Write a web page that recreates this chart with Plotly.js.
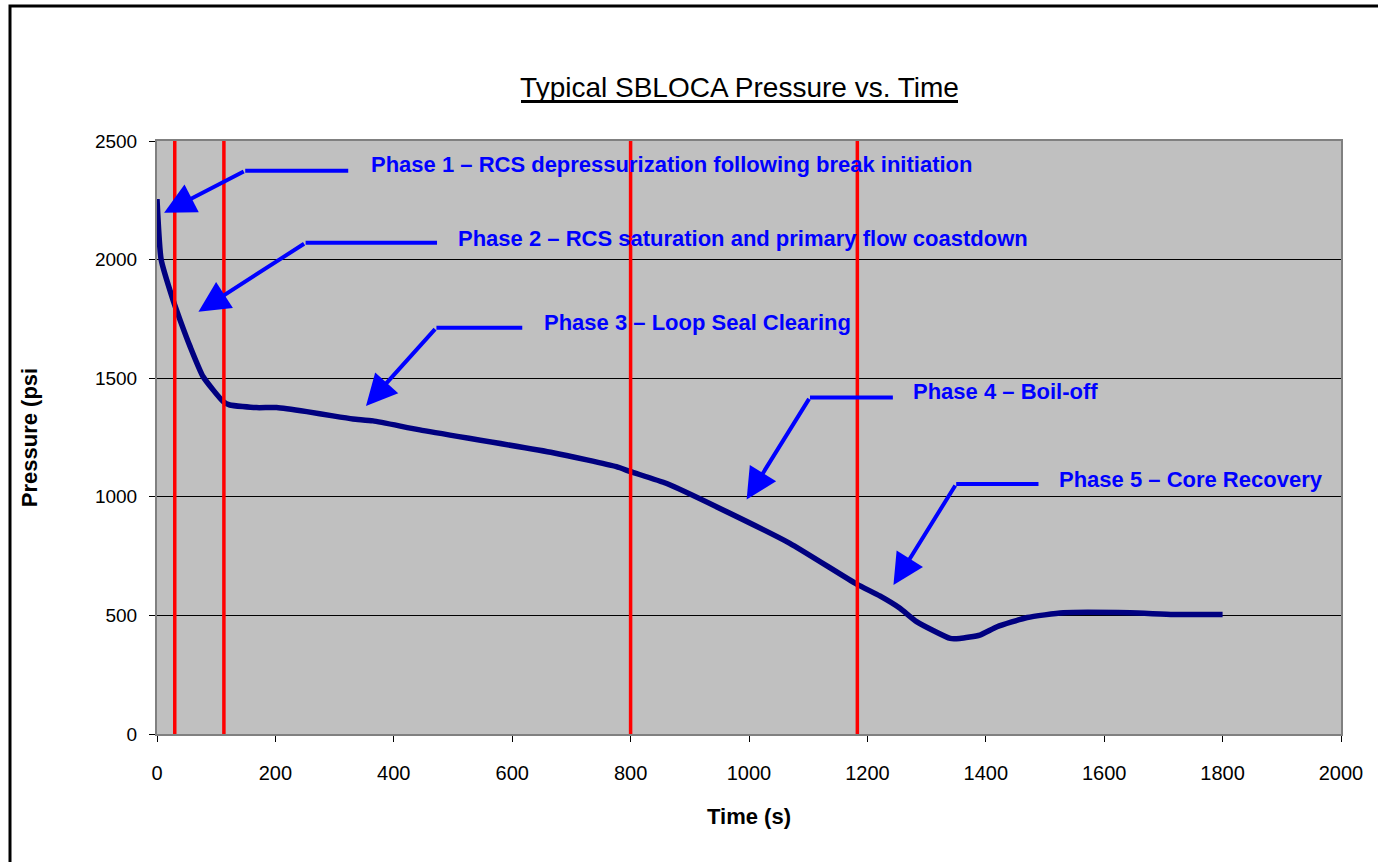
<!DOCTYPE html>
<html>
<head>
<meta charset="utf-8">
<script src="https://cdn.plot.ly/plotly-3.0.1.min.js"></script>
<style>
html,body{margin:0;padding:0;background:#fff;}
#chart{width:1378px;height:862px;}
</style>
</head>
<body>
<div id="chart"></div>
<script>
// Data
const timeS = [0,7,27,39,56,78,112,123,168,202,253,297,331,365,444,669,776,800,861,951,1069,1182,1221,1255,1283,1340,1356,1390,1419,1470,1531,1644,1717,1800];
const pressurePsi = [2255,2000,1830,1745,1633,1506,1401,1387,1376,1376,1359,1341,1328,1320,1282,1186,1127,1106,1056,951,804,632,582,530,474,403,403,417,452,491,511,511,504,504];

// Phase boundary times (red vertical lines)
const phaseBoundaries = [30, 113, 800, 1183];

// Phase labels and their callout arrows (tip, elbow, label-end)
const phaseLabels = [
  "Phase 1 \u2013 RCS depressurization following break initiation",
  "Phase 2 \u2013 RCS saturation and primary flow coastdown",
  "Phase 3 \u2013 Loop Seal Clearing",
  "Phase 4 \u2013 Boil-off",
  "Phase 5 \u2013 Core Recovery"
];
const arrowTipX   = [12, 70, 353, 996, 1244];
const arrowTipY   = [2198, 1780, 1383, 989, 628];
const elbowX      = [149, 251, 472, 1103, 1350];
const elbowY      = [2375, 2071, 1713, 1419, 1054];
const lineEndX    = [323, 473, 617, 1243, 1489];
const labelX      = [358, 505, 651, 1274, 1521];
const labelY      = [2399, 2091, 1733, 1442, 1075];

const xTicks = [0,200,400,600,800,1000,1200,1400,1600,1800,2000];
const yTicks = [0,500,1000,1500,2000,2500];

const FONT = '"Liberation Sans Narrow", "Arial Narrow", "Liberation Sans", Arial, sans-serif';

const shapes = [];
// page border
shapes.push({type:'rect', xref:'paper', yref:'paper',
  x0:(10-157)/1184, x1:(1390-157)/1184, y0:(734-880)/593, y1:(734-6)/593,
  line:{color:'#000', width:3}, fillcolor:'rgba(0,0,0,0)', layer:'below'});
// title underline
shapes.push({type:'line', xref:'paper', yref:'paper',
  x0:(521-157)/1184, x1:(958-157)/1184, y0:(734-101.5)/593, y1:(734-101.5)/593,
  line:{color:'#000', width:3}});
phaseBoundaries.forEach(t => shapes.push({type:'line', xref:'x', yref:'paper',
  x0:t, x1:t, y0:0, y1:1, line:{color:'#FF0000', width:3.5}}));
for (let i=0;i<phaseLabels.length;i++){
  shapes.push({type:'line', xref:'x', yref:'y', x0:elbowX[i], y0:elbowY[i], x1:lineEndX[i], y1:elbowY[i],
    line:{color:'#0000FF', width:4}});
}

const annotations = [];
for (let i=0;i<phaseLabels.length;i++){
  annotations.push({x:arrowTipX[i], y:arrowTipY[i], ax:elbowX[i], ay:elbowY[i], axref:'x', ayref:'y',
    xref:'x', yref:'y', text:'', showarrow:true, arrowhead:2, arrowsize:1.55, arrowwidth:4,
    arrowcolor:'#0000FF', standoff:0, startstandoff:0});
  annotations.push({x:labelX[i], y:labelY[i], xref:'x', yref:'y', text:'<b>'+phaseLabels[i]+'</b>',
    showarrow:false, xanchor:'left', yanchor:'middle', font:{family:FONT, size:22, color:'#0000FF'}});
}

const trace = {x:timeS, y:pressurePsi, type:'scatter', mode:'lines',
  line:{color:'#000080', width:5.5, shape:'spline', smoothing:0.5}, hoverinfo:'x+y'};

const layout = {
  width:1378, height:862,
  margin:{l:157, r:37, t:141, b:128, pad:0},
  paper_bgcolor:'#ffffff', plot_bgcolor:'#C0C0C0',
  showlegend:false,
  title:{text:'Typical SBLOCA Pressure vs. Time',
    x:739.5/1378, xref:'container', xanchor:'center', y:1-87/862, yref:'container', yanchor:'middle',
    font:{family:FONT, size:28, color:'#000'}},
  xaxis:{range:[0,2000], tickvals:xTicks, ticktext:xTicks.map(String), showgrid:false, zeroline:false,
    showline:true, linecolor:'#808080', linewidth:2, mirror:true,
    ticks:'outside', ticklen:6, tickcolor:'#000', tickwidth:1, ticklabelstandoff:14,
    tickfont:{family:FONT, size:20, color:'#000'},
    title:{text:'<b>Time (s)</b>', font:{family:FONT, size:22, color:'#000'}, standoff:26}},
  yaxis:{range:[0,2500], tickvals:yTicks, ticktext:yTicks.map(String), showgrid:true, gridcolor:'#000', gridwidth:1,
    zeroline:false, showline:true, linecolor:'#808080', linewidth:2, mirror:true,
    ticks:'outside', ticklen:6, tickcolor:'#000', tickwidth:1, ticklabelstandoff:8,
    tickfont:{family:FONT, size:19, color:'#000'},
    title:{text:'<b>Pressure (psi</b>', font:{family:FONT, size:22, color:'#000'}, standoff:51}},
  shapes:shapes, annotations:annotations
};

Plotly.newPlot('chart', [trace], layout, {displayModeBar:false, staticPlot:true});
</script>
</body>
</html>
